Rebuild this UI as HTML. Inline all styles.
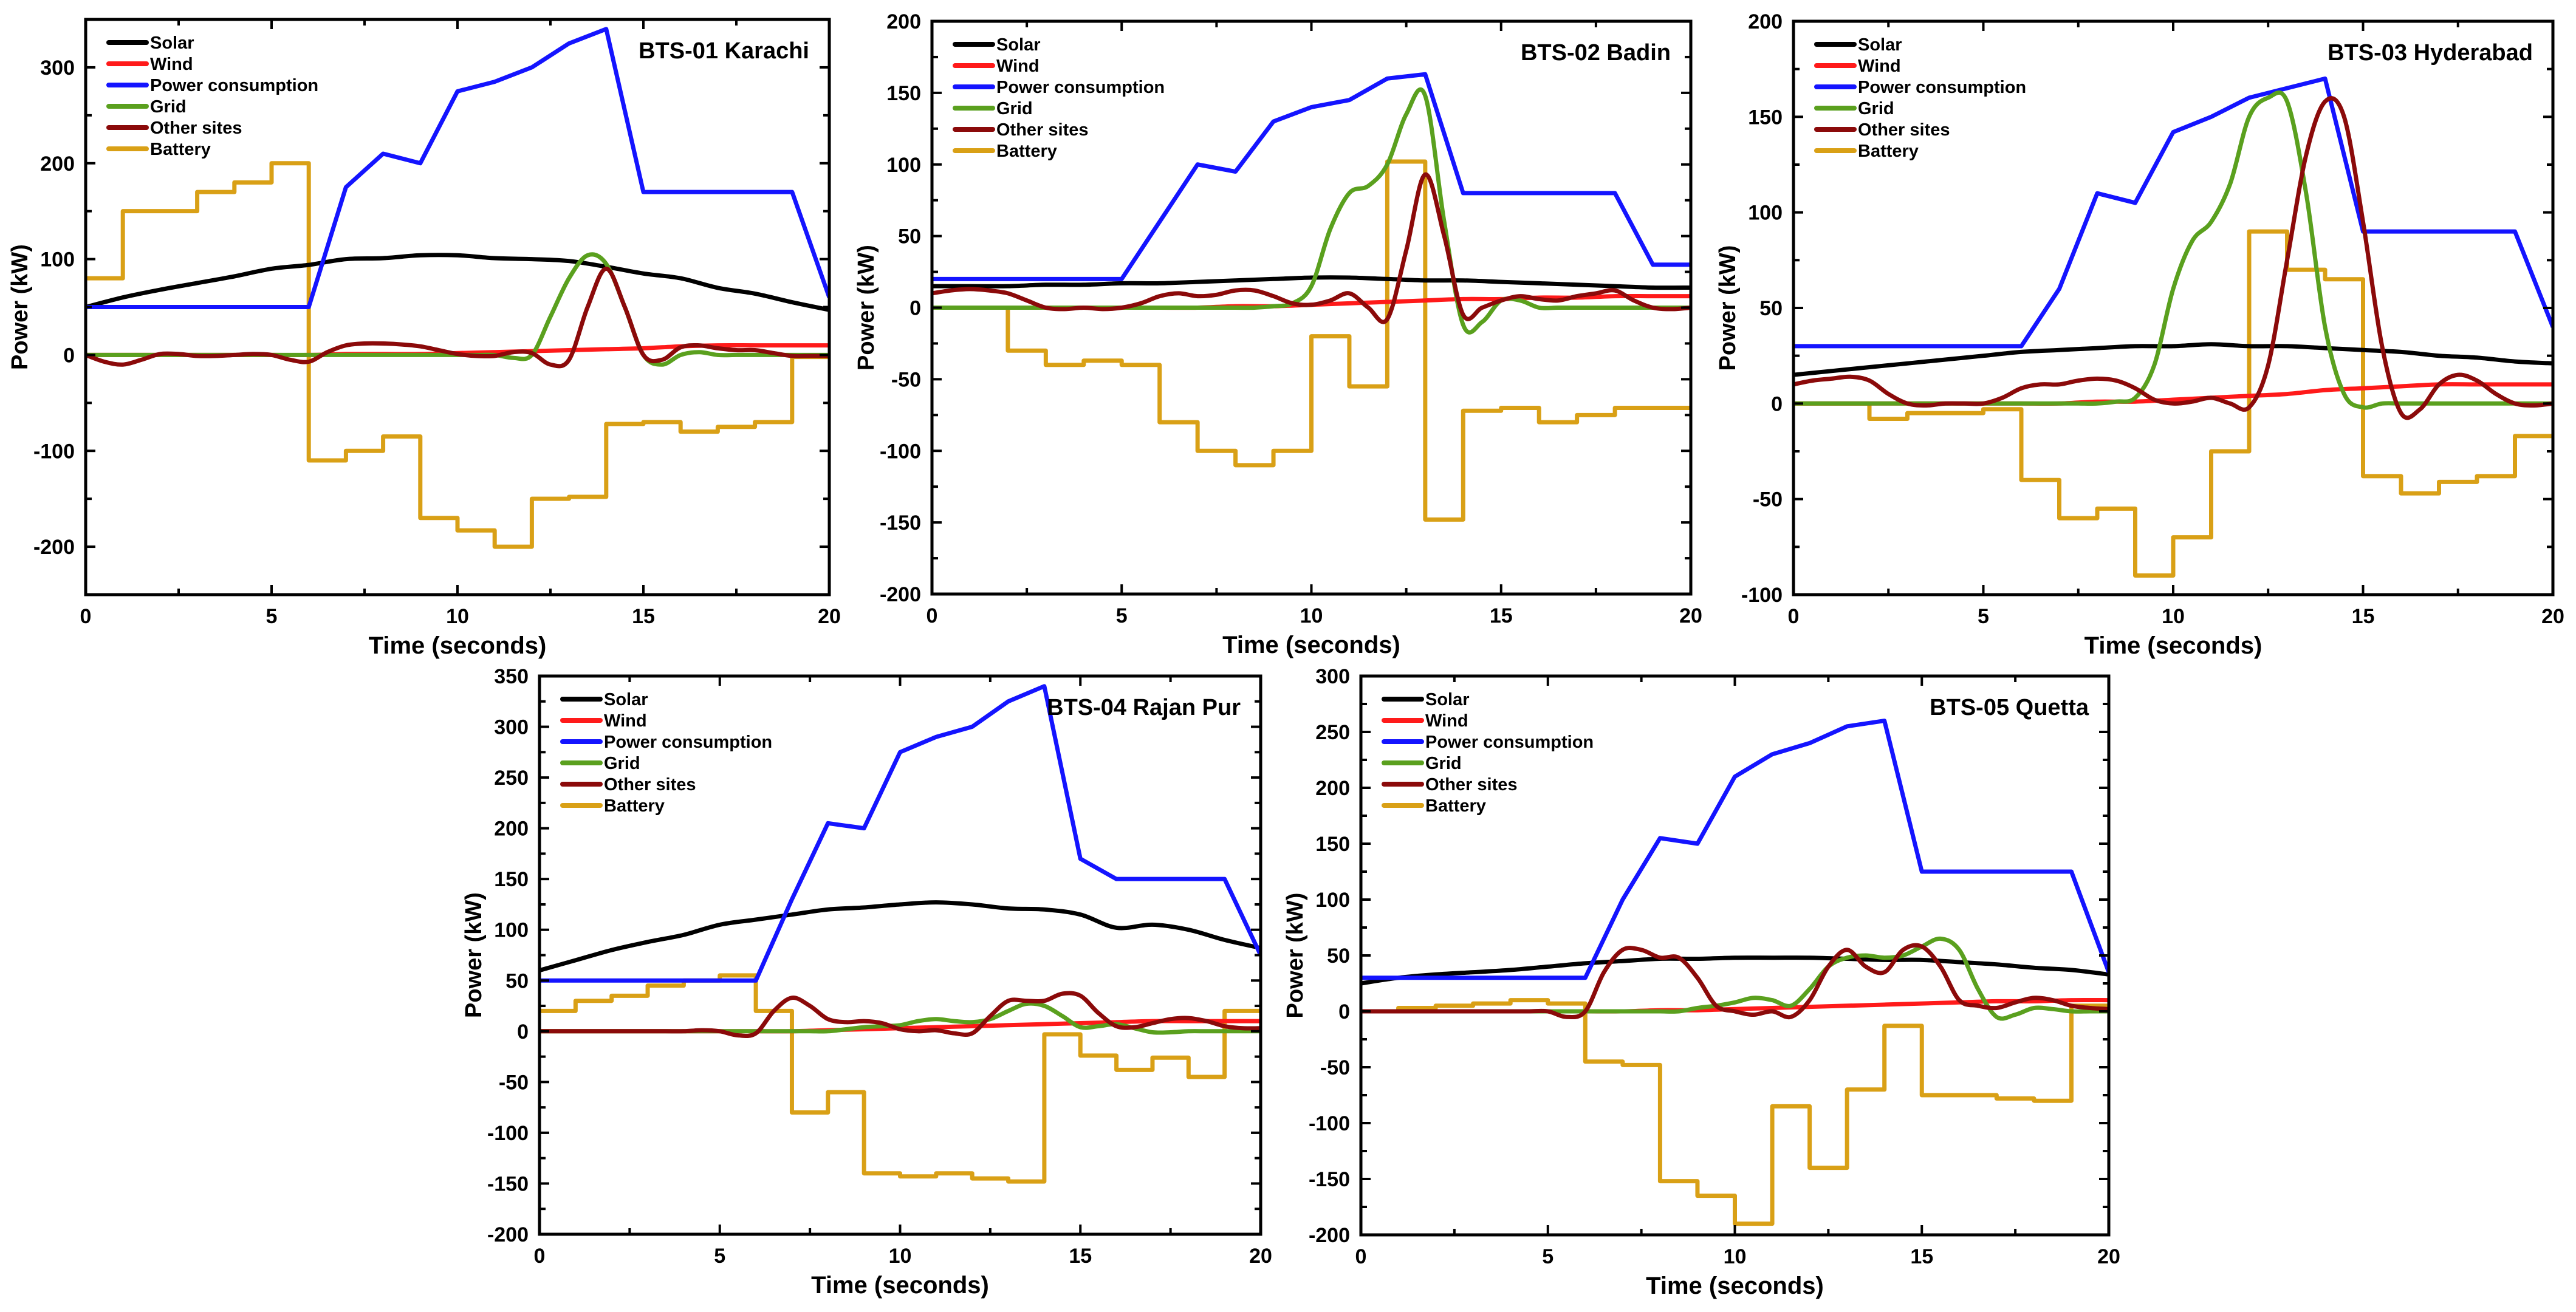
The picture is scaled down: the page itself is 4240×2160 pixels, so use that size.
<!DOCTYPE html>
<html><head><meta charset="utf-8"><style>
html,body{margin:0;padding:0;background:#fff;}
svg{display:block;}
text{font-family:"Liberation Sans Narrow","Liberation Sans",sans-serif;font-weight:bold;fill:#000;}
</style></head>
<body>
<svg id="fig" width="4240" height="2160" viewBox="0 0 4240 2160" xmlns="http://www.w3.org/2000/svg"></svg>
<script>
// ---- data (per-second samples, t = 0..20) ----
const timeTicks = [0, 5, 10, 15, 20];
const seriesNames = ["Solar", "Wind", "Power consumption", "Grid", "Other sites", "Battery"];
const panelTitles = ["BTS-01 Karachi", "BTS-02 Badin", "BTS-03 Hyderabad", "BTS-04 Rajan Pur", "BTS-05 Quetta"];
const yTicks1 = [-200, -100, 0, 100, 200, 300];
const yTicks2 = [-200, -150, -100, -50, 0, 50, 100, 150, 200];
const yTicks3 = [-100, -50, 0, 50, 100, 150, 200];
const yTicks4 = [-200, -150, -100, -50, 0, 50, 100, 150, 200, 250, 300, 350];
const yTicks5 = [-200, -150, -100, -50, 0, 50, 100, 150, 200, 250, 300];

const solar1 = [50,60,68,75,82,90,94,100,101,104,104,101,100,98,92,85,80,70,64,55,47];
const wind1 = [0,0,0,0,0,0,0,1,1,1,2,3,4,5,6,7,9,10,10,10,10];
const power1 = [50,50,50,50,50,50,50,175,210,200,275,285,300,325,340,170,170,170,170,170,60];
const battery1 = [80,150,150,170,180,200,-110,-100,-85,-170,-183,-200,-150,-148,-72,-70,-80,-75,-70,-2];
// grid / other sites sampled every 0.5 s
const grid1 = [0,0,0,0,0,0,0,0,0,0,0,0,0,0,0,0,0,0,0,0,0,0,0,-3,0,40,80,104,95,50,0,-10,0,3,0,0,0,0,0,0,0];
const other1 = [0,-7,-10,-5,1,1,-1,-1,0,1,0,-5,-7,3,10,12,12,11,9,5,1,-1,-1,3,2,-10,-5,50,90,50,0,-5,8,10,7,5,5,2,-1,-1,-1];

const solar2 = [15,15,15,16,16,17,17,18,19,20,21,21,20,19,19,18,17,16,15,14,14];
const wind2 = [0,0,0,0,0,0,0,0,1,1,2,3,4,5,6,6,7,7,8,8,8];
const power2 = [20,20,20,20,20,20,60,100,95,130,140,145,160,163,80,80,80,80,80,30,30];
const battery2 = [0,0,-30,-40,-37,-40,-80,-100,-110,-100,-20,-55,102,-148,-72,-70,-80,-75,-70,-70];
const grid2 = [0,0,0,0,0,0,0,0,0,0,0,0,0,0,0,0,0,0,1,3,15,55,80,85,100,135,148,60,-12,-10,5,5,0,0,0,0,0,0,0,0,0];
const other2 = [10,12,13,12,10,5,0,-1,0,-1,0,3,8,10,8,9,12,12,8,3,2,5,10,0,-8,40,93,50,-5,0,5,8,6,5,8,10,12,5,0,-1,0];

const solar3 = [15,17,19,21,23,25,27,28,29,30,30,31,30,30,29,28,27,25,24,22,21];
const wind3 = [0,0,0,0,0,0,0,0,1,1,2,3,4,5,7,8,9,10,10,10,10];
const power3 = [30,30,30,30,30,30,30,60,110,105,142,150,160,165,170,90,90,90,90,90,40];
const battery3 = [0,0,-8,-5,-5,-3,-40,-60,-55,-90,-70,-25,90,70,65,-38,-47,-41,-38,-17];
const grid3 = [0,0,0,0,0,0,0,0,0,0,0,0,0,0,0,0,0,1,3,20,60,85,95,115,150,160,158,110,40,5,-2,0,0,0,0,0,0,0,0,0,0];
const other3 = [10,12,13,14,12,5,0,-1,0,0,0,3,8,10,10,12,13,12,8,2,0,1,3,0,-2,20,75,130,158,150,95,30,-5,-3,10,15,12,5,0,-1,0];

const solar4 = [60,70,80,88,95,105,110,115,120,122,125,127,125,121,120,115,102,105,100,90,82];
const wind4 = [0,0,0,0,0,0,0,0,1,2,3,4,5,6,7,8,9,10,10,10,10];
const power4 = [50,50,50,50,50,50,50,130,205,200,275,290,300,325,340,170,150,150,150,150,75];
const battery4 = [20,30,35,45,50,55,20,-80,-60,-140,-143,-140,-145,-148,-3,-24,-38,-26,-45,20];
const grid4 = [0,0,0,0,0,0,0,0,0,0,0,0,0,0,0,0,0,2,4,5,6,10,12,10,9,12,20,27,25,15,4,5,7,3,-1,-1,0,0,0,0,0];
const other4 = [0,0,0,0,0,0,0,0,0,1,0,-4,-2,20,33,25,12,9,10,8,2,0,1,-2,-2,15,30,30,30,37,35,18,5,4,8,12,13,10,5,3,3];

const solar5 = [25,30,33,35,37,40,43,45,47,47,48,48,48,47,46,46,44,42,39,37,33];
const wind5 = [0,0,0,0,0,0,0,0,1,1,2,3,4,5,6,7,8,9,9,10,10];
const power5 = [30,30,30,30,30,30,30,100,155,150,210,230,240,255,260,125,125,125,125,125,35];
const battery5 = [0,3,5,7,10,7,-45,-48,-152,-165,-190,-85,-140,-70,-13,-75,-75,-78,-80,5];
const grid5 = [0,0,0,0,0,0,0,0,0,0,0,0,0,0,0,0,0,0,3,5,8,12,10,5,20,40,48,50,48,50,58,65,55,20,-5,-3,3,2,0,0,0];
const other5 = [0,0,0,0,0,0,0,0,0,0,0,-5,0,35,55,55,48,48,30,5,0,-3,0,-5,10,40,55,40,35,55,58,40,10,5,3,8,12,10,5,3,2];

const panels = [
  {L:141,R:1365,T:32,B:979,ymin:-250,ymax:350,ticks:yTicks1,minor:50,data:[solar1,wind1,power1,grid1,other1,battery1]},
  {L:1534,R:2783,T:35,B:978,ymin:-200,ymax:200,ticks:yTicks2,minor:25,data:[solar2,wind2,power2,grid2,other2,battery2]},
  {L:2952,R:4202,T:35,B:979,ymin:-100,ymax:200,ticks:yTicks3,minor:25,data:[solar3,wind3,power3,grid3,other3,battery3]},
  {L:888,R:2075,T:1113,B:2032,ymin:-200,ymax:350,ticks:yTicks4,minor:25,data:[solar4,wind4,power4,grid4,other4,battery4]},
  {L:2240,R:3471,T:1113,B:2033,ymin:-200,ymax:300,ticks:yTicks5,minor:25,data:[solar5,wind5,power5,grid5,other5,battery5]}
];
const colors = ["#000000","#ff1a1a","#1414ff","#5aa01e","#8b0a0a","#d9a016"];
const NS = "http://www.w3.org/2000/svg";
const svg = document.getElementById("fig");
function mk(tag, attrs, parent){const e=document.createElementNS(NS,tag);for(const k in attrs)e.setAttribute(k,attrs[k]);(parent||svg).appendChild(e);return e;}
function smoothPath(pts){
  let d="M"+pts[0][0].toFixed(1)+","+pts[0][1].toFixed(1);
  for(let i=0;i<pts.length-1;i++){
    const p0=pts[Math.max(0,i-1)],p1=pts[i],p2=pts[i+1],p3=pts[Math.min(pts.length-1,i+2)];
    const c1=[p1[0]+(p2[0]-p0[0])/6,p1[1]+(p2[1]-p0[1])/6];
    const c2=[p2[0]-(p3[0]-p1[0])/6,p2[1]-(p3[1]-p1[1])/6];
    d+="C"+c1[0].toFixed(1)+","+c1[1].toFixed(1)+" "+c2[0].toFixed(1)+","+c2[1].toFixed(1)+" "+p2[0].toFixed(1)+","+p2[1].toFixed(1);
  }
  return d;
}
panels.forEach((p,pi)=>{
  const g=mk("g",{});
  
  
  const xs=t=>p.L+(t/20)*(p.R-p.L);
  const ys=v=>p.B-(v-p.ymin)/(p.ymax-p.ymin)*(p.B-p.T);
  const clip="clip"+pi;
  const cp=mk("clipPath",{id:clip},g); mk("rect",{x:p.L,y:p.T,width:p.R-p.L,height:p.B-p.T},cp);
  const plot=mk("g",{"clip-path":"url(#"+clip+")"},g);
  // series
  const order=[5,0,1,2,3,4];
  order.forEach(si=>{
    const arr=p.data[si]; let d;
    if(si===5){ // battery step
      d="M"+xs(0)+","+ys(arr[0]);
      for(let i=0;i<arr.length;i++){ d+="L"+xs(i+1)+","+ys(arr[i]); if(i+1<arr.length) d+="L"+xs(i+1)+","+ys(arr[i+1]); }
    } else if(si===2){
      d="M"+arr.map((v,i)=>xs(i)+","+ys(v)).join("L");
    } else {
      const step=20/(arr.length-1);
      d=smoothPath(arr.map((v,i)=>[xs(i*step),ys(v)]));
    }
    const path=mk("path",{d:d,fill:"none",stroke:colors[si],"stroke-width":7,"stroke-linejoin":"round"},plot);
    
    
  });
  // axes frame
  const frame=mk("rect",{x:p.L,y:p.T,width:p.R-p.L,height:p.B-p.T,fill:"none",stroke:"#000","stroke-width":5},g);
  
  
  // x ticks
  for(let t=0;t<=20;t+=2.5){
    const major=t%5===0, len=major?16:10, x=xs(t);
    mk("line",{x1:x,y1:p.B,x2:x,y2:p.B-len,stroke:"#000","stroke-width":4},g);
    mk("line",{x1:x,y1:p.T,x2:x,y2:p.T+len,stroke:"#000","stroke-width":4},g);
  }
  timeTicks.forEach(t=>{
    const tx=mk("text",{x:xs(t),y:p.B+47,"font-size":34,"text-anchor":"middle"},g); tx.textContent=t;
    
    
  });
  // y ticks
  for(let v=Math.ceil(p.ymin/p.minor)*p.minor; v<=p.ymax; v+=p.minor){
    const major=p.ticks.indexOf(v)>=0, len=major?16:10, y=ys(v);
    mk("line",{x1:p.L,y1:y,x2:p.L+len,y2:y,stroke:"#000","stroke-width":4},g);
    mk("line",{x1:p.R,y1:y,x2:p.R-len,y2:y,stroke:"#000","stroke-width":4},g);
  }
  p.ticks.forEach(v=>{
    const ty=mk("text",{x:p.L-18,y:ys(v)+12,"font-size":34,"text-anchor":"end"},g); ty.textContent=v;
    
    
  });
  const xt=mk("text",{x:(p.L+p.R)/2,y:p.B+97,"font-size":40,"text-anchor":"middle"},g); xt.textContent="Time (seconds)";
  
  
  const yc=(p.T+p.B)/2, yx=p.L-96;
  const yt=mk("text",{x:yx,y:yc,"font-size":38,"text-anchor":"middle",transform:"rotate(-90 "+yx+" "+yc+")",style:"font-family:'Liberation Sans',sans-serif"},g); yt.textContent="Power (kW)";
  
  
  const ti=mk("text",{x:p.R-33,y:p.T+64,"font-size":38,"text-anchor":"end"},g); ti.textContent=panelTitles[pi];
  
  
  // legend
  seriesNames.forEach((n,si)=>{
    const ly=p.T+38+si*35;
    const lg=mk("g",{},g);
    
    
    mk("line",{x1:p.L+38,y1:ly,x2:p.L+100,y2:ly,stroke:colors[si],"stroke-width":8,"stroke-linecap":"round"},lg);
    const lt=mk("text",{x:p.L+106,y:ly+10,"font-size":29},lg); lt.textContent=n;
  });
});
</script>
</body></html>
